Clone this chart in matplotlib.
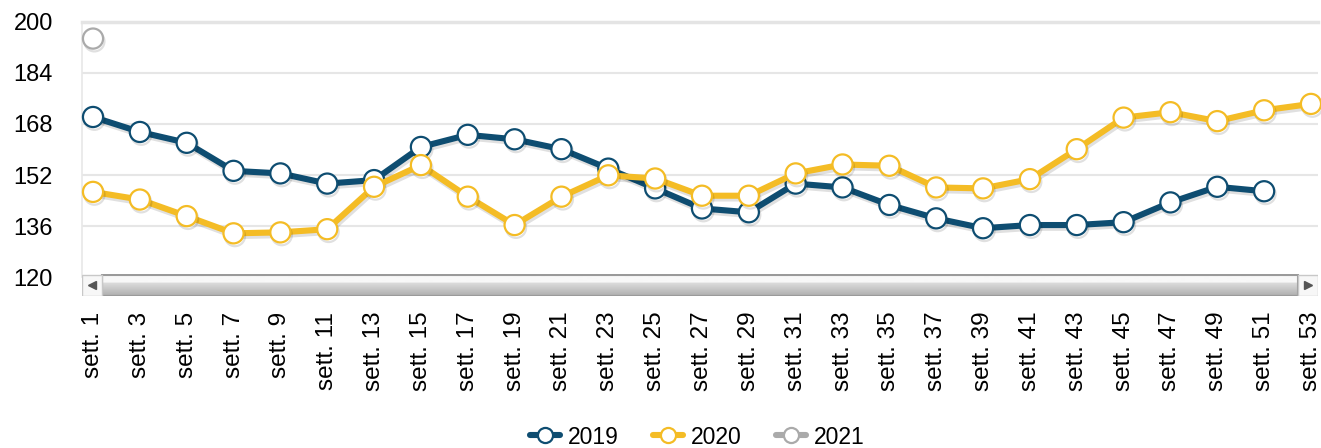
import matplotlib
matplotlib.use("Agg")
import matplotlib.pyplot as plt
import matplotlib.patheffects as pe
from matplotlib.patches import Rectangle
import numpy as np

plt.rcParams["font.family"] = ["Liberation Sans", "DejaVu Sans"]

# --- data -----------------------------------------------------------------
weeks = [f"sett. {w}" for w in range(1, 54, 2)]

vals_2019 = [170.2, 165.5, 162.1, 153.3, 152.5, 149.3, 150.4, 160.8, 164.6,
             163.2, 160.1, 154.0, 147.8, 141.5, 140.3, 149.3, 148.1, 142.6,
             138.4, 135.3, 136.3, 136.3, 137.2, 143.4, 148.3, 146.9]
vals_2020 = [146.7, 144.3, 139.1, 133.7, 134.0, 135.0, 148.3, 155.1, 145.2,
             136.3, 145.2, 151.9, 150.9, 145.5, 145.5, 152.5, 155.3, 154.9,
             148.1, 147.8, 150.7, 160.1, 170.0, 171.7, 168.9, 172.3, 174.3]
vals_2021 = [194.8]

series = [("2019", vals_2019, "#0e4d71"),
          ("2020", vals_2020, "#f4bc25"),
          ("2021", vals_2021, "#aaaaaa")]

y_ticks = [120, 136, 152, 168, 184, 200]

# --- figure ---------------------------------------------------------------
W, H = 1321, 448
fig = plt.figure(figsize=(W / 100, H / 100), dpi=100)
ax = fig.add_axes([82 / W, 1 - 277 / H, (1318 - 82) / W, (277 - 22) / H])

shadow = [pe.SimpleLineShadow(offset=(1.0, -2.0), shadow_color="black", alpha=0.12),
          pe.Normal()]

handles = []
for name, vals, color in series:
    x = np.arange(len(vals))
    ln, = ax.plot(x, vals, color=color, lw=4.4, marker="o", ms=14.5,
                  mfc="white", mec=color, mew=1.6, clip_on=False,
                  solid_capstyle="round", zorder=3, label=name,
                  path_effects=shadow)
    handles.append(ln)

ax.set_xlim(-0.235, 26.15)
ax.set_ylim(120, 200)
ax.set_yticks(y_ticks)
ax.set_xticks(np.arange(len(weeks)))
ax.set_xticklabels(weeks, rotation=90, fontsize=17.5, va="top")
ax.tick_params(axis="x", length=0, pad=25)
ax.tick_params(axis="y", length=0, pad=21, labelsize=17)

ax.grid(True, axis="y", color="#e6e6e6", lw=1.5, zorder=0)
ax.set_axisbelow(True)
for s in ["bottom", "right"]:
    ax.spines[s].set_visible(False)
ax.spines["top"].set_color("#e4e4e4")
ax.spines["top"].set_linewidth(2.5)
ax.spines["left"].set_color("#e8e8e8")
ax.spines["left"].set_linewidth(1.2)

# --- scrollbar under plot area -------------------------------------------
sb = fig.add_axes([82 / W, 1 - 296 / H, (1318 - 82) / W, 22 / H])
sb.set_xlim(0, 1236)
sb.set_ylim(0, 22)
sb.axis("off")
grad = np.linspace(0.97, 0.68, 64)
grad = np.where(np.linspace(0, 1, 64) < 0.35, 0.97, grad)
sb.imshow(grad[:, None], cmap="gray", vmin=0, vmax=1, aspect="auto",
          extent=[20, 1216, 0, 21], origin="upper", zorder=1)
sb.add_patch(Rectangle((20, 0.5), 1196, 20.5, fill=False, ec="#9a9a9a", lw=1.5, zorder=2))
for bx in [0, 1216]:
    sb.add_patch(Rectangle((bx, 0.5), 20, 20.5, fc="#f7f7f7", ec="#c8c8c8", lw=1, zorder=2))
sb.plot([10], [11], marker="<", ms=6, color="#555555", zorder=3)
sb.plot([1226], [11], marker=">", ms=6, color="#555555", zorder=3)

# --- legend ---------------------------------------------------------------
leg = fig.legend(handles=handles, loc="center", bbox_to_anchor=(697 / W, 1 - 437 / H),
                 ncol=3, frameon=False, fontsize=16.5, handlelength=1.3,
                 handletextpad=0.35, columnspacing=1.5, markerscale=0.75)
for h in leg.legend_handles:
    h.set_path_effects([])

fig.savefig("out.png", dpi=100)
